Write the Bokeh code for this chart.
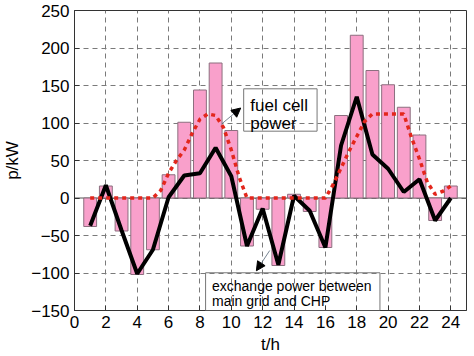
from bokeh.plotting import figure
from bokeh.models import Range1d, FixedTicker, Span, Label, Arrow, NormalHead, BoxAnnotation
from bokeh.embed import file_html
from bokeh.resources import INLINE

# ---- data ----
hours = list(range(1, 25))
bar_power = [-38, 16, -44, -102, -69, 31, 101, 144, 180, 90, -64, -15,
             -90, 5, -18, -66, 110, 217, 170, 151, 121, 84, -30, 16]
exchange_power = [-37, 17, -43, -101, -69, 1, 30, 33, 67, 29, -64, -14,
                  -89, 3, -17, -66, 70, 135, 58, 39, 8, 25, -30, 0]
fc_t = [1, 2, 3, 4, 5, 5.5, 6, 6.5, 7, 7.5, 8, 8.5, 9, 9.5, 10, 10.5, 11,
        12, 13, 14, 15, 16, 16.5, 17, 17.5, 18, 18.5, 19, 19.5, 20, 20.5,
        21, 21.5, 22, 22.5, 23, 23.5, 24]
fuel_cell = [0, 0, 0, 0, 0, 10, 33, 50, 64, 86, 105, 112, 110, 94, 64, 28, 0,
             0, 0, 0, 0, 0, 18, 40, 62, 82, 102, 112, 112, 112, 112,
             112, 80, 52, 21, 5, 9, 16]
x_ticks = list(range(0, 25, 2))
y_ticks = list(range(-150, 251, 50))

FONT = "Liberation Sans"

p = figure(width=474, height=356, output_backend="svg", toolbar_location=None,
           x_range=Range1d(0, 25), y_range=Range1d(-150, 250),
           min_border_left=69, min_border_right=8, min_border_top=10,
           min_border_bottom=46)
p.background_fill_color = "white"
p.border_fill_color = "white"
p.outline_line_color = "#333333"

for ax in (p.xaxis[0], p.yaxis[0]):
    ax.major_tick_in = 5
    ax.major_tick_out = 0
    ax.minor_tick_line_color = None
    ax.axis_line_color = "#333333"
    ax.major_tick_line_color = "#333333"
    ax.major_label_text_font = FONT
    ax.major_label_text_font_size = "17px"
    ax.major_label_text_color = "black"
    ax.major_label_standoff = 5
    ax.axis_label_text_font = FONT
    ax.axis_label_text_font_size = "17px"
    ax.axis_label_text_font_style = "normal"
    ax.axis_label_text_color = "black"

p.xaxis.ticker = FixedTicker(ticks=x_ticks)
p.yaxis.ticker = FixedTicker(ticks=y_ticks)
p.xaxis.axis_label = "t/h"
p.yaxis.axis_label = "p/kW"
p.xaxis.axis_label_standoff = 4
p.yaxis.axis_label_standoff = 6

p.xgrid[0].ticker = p.xaxis[0].ticker
p.ygrid[0].ticker = p.yaxis[0].ticker
for g in (p.xgrid[0], p.ygrid[0]):
    g.grid_line_color = "#7a7a7a"
    g.grid_line_dash = "5 4"
    g.grid_line_width = 1

p.add_layout(Span(location=0, dimension="width", line_color="#555555",
                  line_width=1, level="underlay"))

p.vbar(x=hours, top=bar_power, bottom=0, width=0.82,
       fill_color="#F9A0CB", line_color="#8c6f7f", line_width=1)
p.line(hours, exchange_power, line_width=4, line_color="black")
p.line(fc_t, fuel_cell, line_width=3.5, line_color="#E3261C", line_dash="4 4")

# annotation boxes
p.add_layout(BoxAnnotation(left=10.79, right=15.47, top=145.6, bottom=89.1,
                           fill_alpha=0, line_color="#777777", line_alpha=1,
                           line_width=1))
p.add_layout(BoxAnnotation(left=8.36, right=19.48, top=-99.7, bottom=-150,
                           fill_alpha=0, line_color="#777777", line_alpha=1,
                           line_width=1))
for txt, x, y, size in [("fuel cell", 11.21, 116.7, "17px"),
                        ("power", 11.21, 93.0, "17px"),
                        ("exchange power between", 8.77, -124.0, "14px"),
                        ("main grid and CHP", 8.77, -144.0, "14px")]:
    p.add_layout(Label(x=x, y=y, y_offset=5, text=txt, text_font=FONT,
                       text_font_size=size, text_baseline="alphabetic",
                       text_color="black"))

p.add_layout(Arrow(end=NormalHead(size=9, fill_color="black", line_color="black"),
                   x_start=9.4, y_start=99, x_end=10.6, y_end=120,
                   line_width=0.8, line_color="#556677"))
p.add_layout(Arrow(end=NormalHead(size=9, fill_color="black", line_color="black"),
                   x_start=12.45, y_start=-70, x_end=11.6, y_end=-97,
                   line_width=0.8, line_color="#556677"))

open("out.html", "w").write(file_html(p, INLINE))
